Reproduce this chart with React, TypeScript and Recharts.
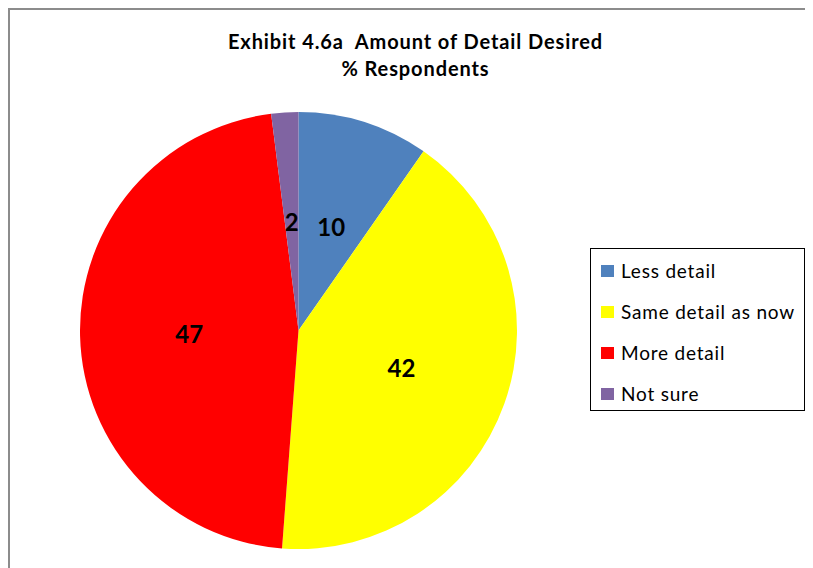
import { PieChart, Pie, Cell, Legend } from "recharts";

const categories = ["Less detail", "Same detail as now", "More detail", "Not sure"];
const percents = [9.7, 41.5, 46.8, 2.0];
const colors = ["#4F81BD", "#FFFF00", "#FF0000", "#8064A2"];

const data = categories.map((name, i) => ({ name, value: percents[i] }));

const RAD = Math.PI / 180;

const renderLabel = (props: any) => {
  const { cx, cy, midAngle, outerRadius, value } = props;
  const r = outerRadius * 0.5;
  const x = cx + r * Math.cos(-midAngle * RAD);
  const y = cy + r * Math.sin(-midAngle * RAD);
  return (
    <text
      x={x}
      y={y}
      textAnchor="middle"
      dominantBaseline="central"
      fill="#000"
      fontFamily="Lato"
      fontWeight="bold"
      fontSize={24}
    >
      {Math.round(value)}
    </text>
  );
};

const LegendBox = () => (
  <div
    style={{
      border: "1px solid #000",
      width: 215,
      height: 163,
      boxSizing: "border-box",
      padding: "1px 0 0 10px",
      fontFamily: "Lato",
      fontSize: 19,
      letterSpacing: 0.8,
      color: "#000",
      background: "#fff",
      overflow: "hidden",
    }}
  >
    {categories.map((c, i) => (
      <div key={c} style={{ display: "flex", alignItems: "center", height: 41 }}>
        <span
          style={{
            display: "inline-block",
            width: 13,
            height: 12,
            background: colors[i],
            marginRight: 7,
          }}
        />
        <span>{c}</span>
      </div>
    ))}
  </div>
);

export default function App() {
  return (
    <div
      style={{
        position: "relative",
        width: 805,
        height: 560,
        borderLeft: "2px solid #8c8c8c",
        borderTop: "2px solid #8c8c8c",
        boxSizing: "border-box",
        background: "#fff",
        overflow: "hidden",
      }}
    >
      <div
        style={{
          position: "absolute",
          left: 0,
          width: 811,
          top: 18,
          textAlign: "center",
          fontFamily: "Lato",
          fontWeight: "bold",
          fontSize: 20,
          letterSpacing: 0.9,
          lineHeight: "27px",
          color: "#000",
        }}
      >
        <div>Exhibit 4.6a&nbsp;&nbsp;Amount of Detail Desired</div>
        <div>% Respondents</div>
      </div>
      <PieChart width={803} height={558} margin={{ top: 0, right: 0, bottom: 0, left: 0 }}>
        <Pie
          data={data}
          dataKey="value"
          nameKey="name"
          cx={288.5}
          cy={320.5}
          outerRadius={218.5}
          startAngle={90}
          endAngle={-270}
          stroke="none"
          label={renderLabel}
          labelLine={false}
          isAnimationActive={false}
        >
          {data.map((d, i) => (
            <Cell key={d.name} fill={colors[i]} />
          ))}
        </Pie>
        <Legend
          content={<LegendBox />}
          wrapperStyle={{ position: "absolute", left: 580, top: 238, width: 215 }}
        />
      </PieChart>
    </div>
  );
}
